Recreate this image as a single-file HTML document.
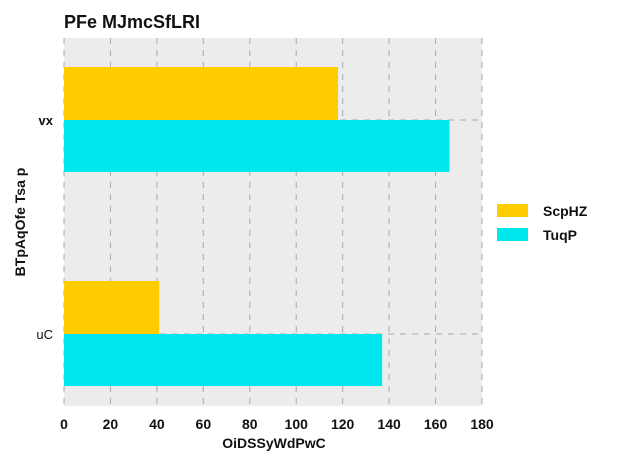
<!DOCTYPE html>
<html><head><meta charset="utf-8"><style>
body{margin:0;background:#fff;font-family:"Liberation Sans",Arial,sans-serif}
svg text{font-family:"Liberation Sans",Arial,sans-serif}
</style></head><body>
<svg id="c" width="624" height="468" xmlns="http://www.w3.org/2000/svg">
<text x="64" y="28" font-size="18" font-weight="bold" fill="#111">PFe MJmcSfLRI</text>
<rect x="64" y="38" width="418" height="368" fill="#ececec"/>
<g id="grid"></g>
<g id="bars"></g>
<g id="axes"></g>
<text x="274" y="448" font-size="14" font-weight="bold" text-anchor="middle" fill="#111">OiDSSyWdPwC</text>
<text transform="translate(25,222) rotate(-90)" font-size="14" font-weight="bold" text-anchor="middle" fill="#111">BTpAqOfe Tsa p</text>
<g>
<rect x="497" y="204" width="31" height="13" fill="#ffcc00"/>
<text x="543" y="216" font-size="14" font-weight="bold" fill="#111">ScpHZ</text>
<rect x="497" y="228" width="31" height="13" fill="#00e8ee"/>
<text x="543" y="240" font-size="14" font-weight="bold" fill="#111">TuqP</text>
</g>
</svg>
<script>
const categories=["vx","uC"];
const scphz=[118,41];
const tuqp=[166,137];
const ticks=[0,20,40,60,80,100,120,140,160,180];
const NS="http://www.w3.org/2000/svg";
const X0=64,X1=482,XMAX=180;
function xs(v){return X0+(v/XMAX)*(X1-X0);}
function yc(i){return 120+i*214;}
function mk(p,tag,a){const e=document.createElementNS(NS,tag);for(const k in a)e.setAttribute(k,a[k]);p.appendChild(e);return e;}
const grid=document.getElementById('grid'),bars=document.getElementById('bars'),axes=document.getElementById('axes');
ticks.forEach(t=>{
 const l=mk(grid,'line',{x1:xs(t),x2:xs(t),y1:38,y2:406,stroke:'#aaa','stroke-dasharray':'6,6','stroke-width':1});
 
 
 const tx=mk(axes,'text',{x:xs(t),y:429,'font-size':14,'font-weight':'bold','text-anchor':'middle',fill:'#111'});
 tx.textContent=t;
 
 
});
categories.forEach((c,i)=>{
 const c0=yc(i);
 const g=mk(grid,'line',{x1:X0,x2:X1,y1:c0,y2:c0,stroke:'#aaa','stroke-dasharray':'6,6','stroke-width':1});
 
 
 const b1=mk(bars,'rect',{x:X0,y:c0-53,width:xs(scphz[i])-X0,height:53,fill:'#ffcc00'});
 
 
 const b2=mk(bars,'rect',{x:X0,y:c0,width:xs(tuqp[i])-X0,height:52,fill:'#00e8ee'});
 
 
 const tl=mk(axes,'text',{x:53,y:c0+5,'font-size':13,'font-weight':i==0?'bold':'normal','text-anchor':'end',fill:'#111'});
 tl.textContent=c;
 
 
});
</script>
</body></html>
